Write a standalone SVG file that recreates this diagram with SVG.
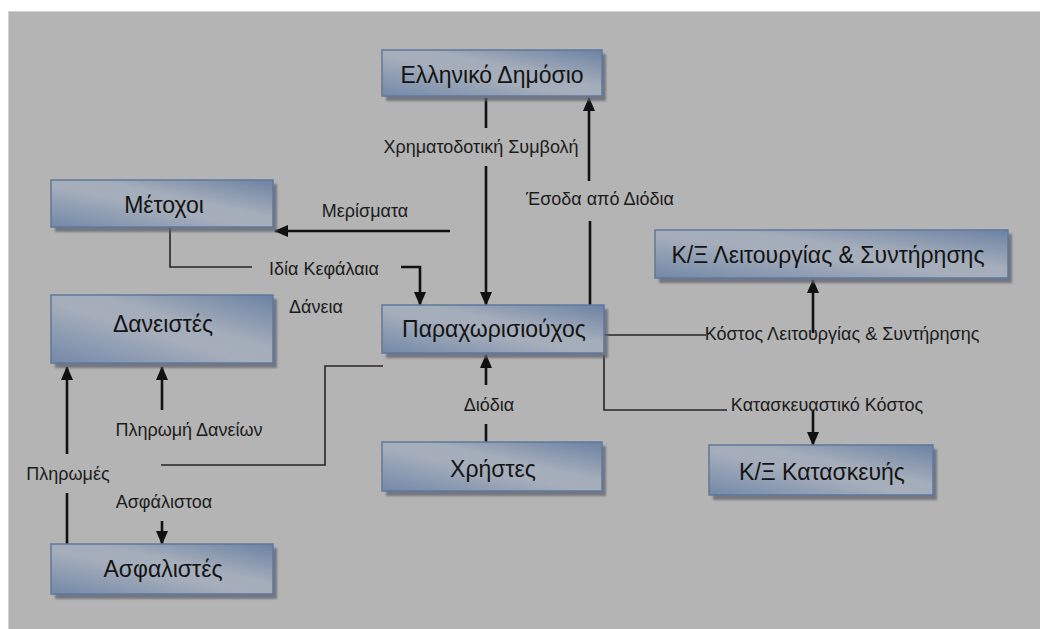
<svg xmlns="http://www.w3.org/2000/svg" width="1040" height="629" viewBox="0 0 1040 629">
<defs>
<linearGradient id="boxg" x1="0" y1="1" x2="1" y2="0">
<stop offset="0" stop-color="#7389a8"/>
<stop offset="0.45" stop-color="#a6aebb"/>
<stop offset="0.6" stop-color="#a4adba"/>
<stop offset="1" stop-color="#6c82a3"/>
</linearGradient>
<filter id="sh" x="-10%" y="-10%" width="130%" height="140%">
<feGaussianBlur stdDeviation="1.2"/>
</filter>
<marker id="ah" markerUnits="userSpaceOnUse" markerWidth="14" markerHeight="14" viewBox="0 0 14 14" refX="13" refY="7" orient="auto">
<path d="M0,1 L14,7 L0,13 Z" fill="#111"/>
</marker>
</defs>
<style>
.bg{fill:#b4b4b4}
.shadow{fill:#5e6470;opacity:0.75}
.box{fill:url(#boxg);stroke:#5f789c;stroke-width:1.5}
.nt{font-family:"Liberation Sans",Arial,sans-serif;font-size:23px;fill:#141414;text-anchor:middle}
.lb{font-family:"Liberation Sans",Arial,sans-serif;font-size:18px;fill:#1c1c1c;text-anchor:middle}
.thick{fill:none;stroke:#111;stroke-width:2.6}
.thin{fill:none;stroke:#262626;stroke-width:1.6}
</style>
<rect x="0" y="0" width="1040" height="629" fill="#ffffff"/>
<rect class="bg" x="8" y="11" width="1032" height="618"/>
<line x1="8" y1="11.5" x2="1040" y2="11.5" stroke="#d2d2d2" stroke-width="1"/>
<line x1="8.5" y1="11" x2="8.5" y2="629" stroke="#d2d2d2" stroke-width="1"/>

<g id="connectors">
<line class="thick" x1="486" y1="98" x2="486" y2="128"/>
<line class="thick" x1="486" y1="166" x2="486" y2="305" marker-end="url(#ah)"/>
<text class="lb" x="481" y="153">Χρηματοδοτική Συμβολή</text>

<line class="thick" x1="590" y1="305" x2="590" y2="221"/>
<line class="thick" x1="589" y1="181" x2="589" y2="98" marker-end="url(#ah)"/>
<text class="lb" x="600" y="205">Έσοδα από Διόδια</text>

<line class="thick" x1="450" y1="231" x2="275" y2="231" marker-end="url(#ah)"/>
<text class="lb" x="365" y="217">Μερίσματα</text>

<polyline class="thin" points="170,228 170,267 252,267"/>
<text class="lb" x="324" y="275">Ιδία Κεφάλαια</text>
<polyline class="thick" points="401,267 420,267 420,305" marker-end="url(#ah)"/>

<text class="lb" x="316" y="313">Δάνεια</text>

<polyline class="thin" points="383,366 325,366 325,465 161,465"/>

<line class="thick" x1="162" y1="410" x2="162" y2="367" marker-end="url(#ah)"/>
<text class="lb" x="189" y="436">Πληρωμή Δανείων</text>

<line class="thick" x1="67" y1="544" x2="67" y2="493"/>
<line class="thick" x1="67" y1="454" x2="67" y2="367" marker-end="url(#ah)"/>
<text class="lb" x="68" y="480">Πληρωμές</text>

<text class="lb" x="164" y="508">Ασφάλιστοα</text>
<line class="thick" x1="162" y1="521" x2="162" y2="544" marker-end="url(#ah)"/>

<line class="thick" x1="486" y1="442" x2="486" y2="424"/>
<line class="thick" x1="486" y1="385" x2="486" y2="355" marker-end="url(#ah)"/>
<text class="lb" x="489" y="411">Διόδια</text>

<line class="thin" x1="604" y1="335" x2="706" y2="335"/>
<line class="thick" x1="813" y1="333" x2="813" y2="280" marker-end="url(#ah)"/>
<text class="lb" x="842" y="340">Κόστος Λειτουργίας &amp; Συντήρησης</text>

<polyline class="thin" points="604,355 604,410 727,410"/>
<line class="thick" x1="813" y1="410" x2="813" y2="445" marker-end="url(#ah)"/>
<text class="lb" x="827" y="411">Κατασκευαστικό Κόστος</text>
</g>

<g id="node-ellhniko-dhmosio">
<rect class="shadow" x="386" y="54" width="220" height="47" filter="url(#sh)"/>
<rect class="box" x="382" y="50" width="220" height="46"/>
<text class="nt" x="492" y="83">Ελληνικό Δημόσιο</text>
</g>

<g id="node-metoxoi">
<rect class="shadow" x="55" y="184" width="222" height="48" filter="url(#sh)"/>
<rect class="box" x="51" y="180" width="222" height="47"/>
<text class="nt" x="164" y="213">Μέτοχοι</text>
</g>

<g id="node-daneistes">
<rect class="shadow" x="55" y="299" width="222" height="69" filter="url(#sh)"/>
<rect class="box" x="51" y="295" width="222" height="68"/>
<text class="nt" x="163" y="332">Δανειστές</text>
</g>

<g id="node-paraxwrisiouxos">
<rect class="shadow" x="386" y="309" width="222" height="49" filter="url(#sh)"/>
<rect class="box" x="382" y="305" width="222" height="48"/>
<text class="nt" x="494" y="337">Παραχωρισιούχος</text>
</g>

<g id="node-xrhstes">
<rect class="shadow" x="386" y="446" width="220" height="50" filter="url(#sh)"/>
<rect class="box" x="382" y="442" width="220" height="49"/>
<text class="nt" x="493" y="477">Χρήστες</text>
</g>

<g id="node-asfalistes">
<rect class="shadow" x="55" y="548" width="222" height="51" filter="url(#sh)"/>
<rect class="box" x="51" y="544" width="222" height="50"/>
<text class="nt" x="163" y="577">Ασφαλιστές</text>
</g>

<g id="node-kx-leitourgias">
<rect class="shadow" x="659" y="234" width="353" height="49" filter="url(#sh)"/>
<rect class="box" x="655" y="230" width="353" height="48"/>
<text class="nt" x="828" y="263">Κ/Ξ Λειτουργίας &amp; Συντήρησης</text>
</g>

<g id="node-kx-kataskeuhs">
<rect class="shadow" x="713" y="449" width="224" height="51" filter="url(#sh)"/>
<rect class="box" x="709" y="445" width="224" height="50"/>
<text class="nt" x="822" y="480">Κ/Ξ Κατασκευής</text>
</g>
</svg>
